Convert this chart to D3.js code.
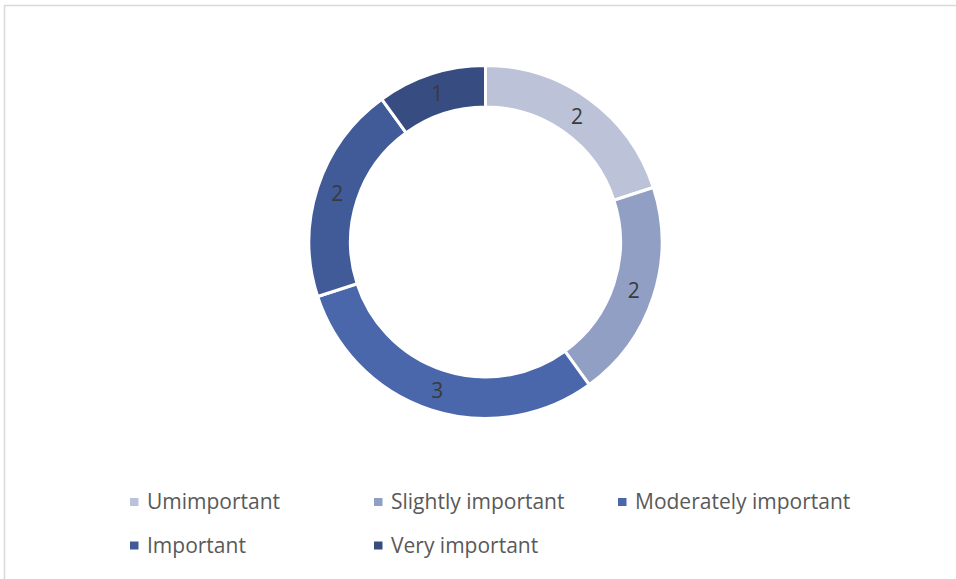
<!DOCTYPE html>
<html>
<head>
<meta charset="utf-8">
<script src="https://cdn.jsdelivr.net/npm/d3@7"></script>
<style>
  html, body { margin: 0; padding: 0; background: #fff; }
  svg { display: block; }
</style>
</head>
<body>
<svg id="chart" width="956" height="579"></svg>
<script>
// Survey answers: how important the topic is to respondents
const categories = ["Umimportant", "Slightly important", "Moderately important", "Important", "Very important"];
const counts = [2, 2, 3, 2, 1];
const colors = ["#bcc3d9", "#929fc4", "#4a67ac", "#415b99", "#374c80"];

const svg = d3.select("#chart");

// outer chart frame (open to the right and bottom)
svg.append("rect")
  .attr("x", 4.5).attr("y", 5.5)
  .attr("width", 1000).attr("height", 1000)
  .attr("fill", "#fff")
  .attr("stroke", "#d9d9d9")
  .attr("stroke-width", 1.5);

const cx = 485.5, cy = 242;
const outerR = 176.5, innerR = 135;

const pie = d3.pie().sort(null).value(d => d.value);
const arcs = pie(categories.map((c, i) => ({ name: c, value: counts[i], color: colors[i] })));

const arc = d3.arc().innerRadius(innerR).outerRadius(outerR);
const labelArc = d3.arc().innerRadius((innerR + outerR) / 2).outerRadius((innerR + outerR) / 2);

const g = svg.append("g").attr("transform", `translate(${cx},${cy})`);

g.selectAll("path.slice")
  .data(arcs)
  .join("path")
  .attr("class", "slice")
  .attr("d", arc)
  .attr("fill", d => d.data.color)
  .attr("stroke", "#fff")
  .attr("stroke-width", 3)
  .attr("stroke-linejoin", "miter");

g.selectAll("text.value")
  .data(arcs)
  .join("text")
  .attr("class", "value")
  .attr("transform", d => `translate(${labelArc.centroid(d)})`)
  .attr("text-anchor", "middle")
  .attr("dy", "0.36em")
  .attr("font-family", "'Open Sans', sans-serif")
  .attr("font-size", 21)
  .attr("fill", "#3a3a3a")
  .text(d => d.data.value);

// legend: three columns, two rows
const colX = d3.scaleLinear().domain([0, 1]).range([130, 374]);
const rowY = d3.scaleLinear().domain([0, 1]).range([509, 552.5]);

const legend = svg.append("g");
const items = legend.selectAll("g.item")
  .data(categories.map((c, i) => ({ name: c, color: colors[i], col: i % 3, row: Math.floor(i / 3) })))
  .join("g")
  .attr("class", "item")
  .attr("transform", d => `translate(${colX(d.col)},${rowY(d.row)})`);

items.append("rect")
  .attr("x", 0).attr("y", -11)
  .attr("width", 8.5).attr("height", 8)
  .attr("fill", d => d.color);

items.append("text")
  .attr("x", 17).attr("y", 0)
  .attr("font-family", "'Open Sans', sans-serif")
  .attr("font-size", 21)
  .attr("fill", "#595959")
  .text(d => d.name);
</script>
</body>
</html>
